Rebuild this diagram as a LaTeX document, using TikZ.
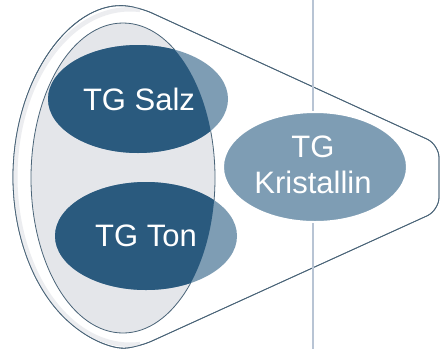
\documentclass[tikz,border=0pt]{standalone}
\usepackage{fontspec}
\setmainfont{Liberation Sans}
\usetikzlibrary{shapes.geometric}
\definecolor{tgdark}{HTML}{2A5A7E}
\definecolor{tglight}{HTML}{7E9DB4}
\definecolor{tgframe}{HTML}{4A6478}
\definecolor{tggray}{HTML}{E4E6EA}
\definecolor{tgaxis}{HTML}{B8C4D4}
\def\funnelpath{(140.2,-7.65) arc[start angle=85, end angle=275, x radius=117, y radius=170] -- (439,-210.4) -- (439,-144.6) -- cycle}
\def\innerpath{(123,-178) ellipse [x radius=92, y radius=155]}

\begin{document}
\begin{tikzpicture}[x=1pt,y=1pt,
	tglabel/.style={text=white, font=\fontsize{31}{36}\selectfont, align=center, inner sep=0pt}]
		%%%%% START %%%%%
		\useasboundingbox (0,0) rectangle (441,-349);
		\clip (0,0) rectangle (441,-349);
		
		\draw[tgframe, line width=0.8pt, fill=white, rounded corners=13pt] \funnelpath;
		\begin{scope}
			\clip \funnelpath;
			\draw[tggray!70, line width=9pt] (140.2,-7.65) arc[start angle=85, end angle=275, x radius=117, y radius=170];
		\end{scope}
		\draw[tgframe, line width=0.8pt, rounded corners=13pt] \funnelpath;
		
		\draw[tgaxis, line width=1.2pt] (313,0) -- (313,-349);
		
		\draw[tgframe, line width=0.8pt, fill=tggray] \innerpath;
		
		\fill[tglight] (138,-99) ellipse [x radius=90, y radius=54];
		\fill[tglight] (146,-236) ellipse [x radius=91, y radius=54];
		\begin{scope}
			\clip \innerpath;
			\fill[tgdark] (138,-99) ellipse [x radius=90, y radius=54];
			\fill[tgdark] (146,-236) ellipse [x radius=91, y radius=54];
		\end{scope}
		
		\draw[white, line width=2pt, fill=tglight] (315,-167) ellipse [x radius=92, y radius=55];
		
		\node[tglabel] (salz) at (139,-99) {TG Salz};
		\node[tglabel] (ton) at (146,-236) {TG Ton};
		\node[tglabel] (kristallin) at (313,-165) {TG\\Kristallin};
		%%%%% END %%%%%
	\end{tikzpicture}
\end{document}
